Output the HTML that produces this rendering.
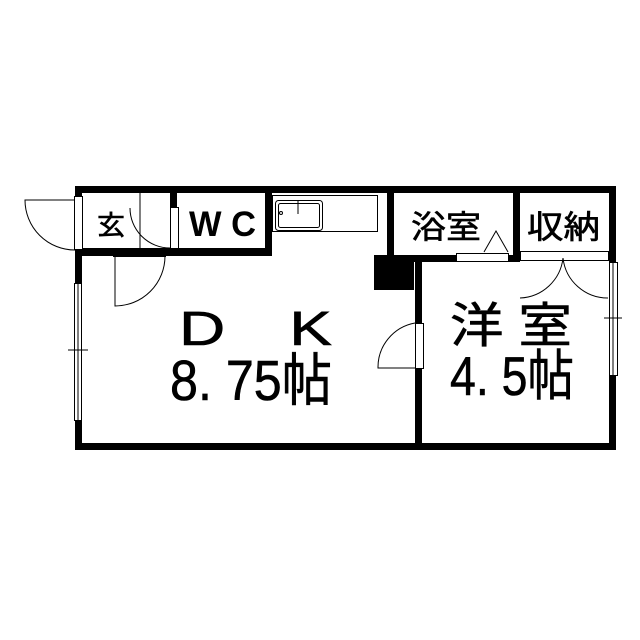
<html><body style="margin:0;background:#fff">
<svg width="640" height="640" xmlns="http://www.w3.org/2000/svg" style="display:block">
<rect width="640" height="640" fill="#fff"/>
<g fill="#000">
<rect x="75" y="186" width="541" height="7"/>
<rect x="75" y="443" width="541" height="7"/>
<rect x="75" y="186" width="7" height="10"/>
<rect x="75" y="250" width="7" height="33"/>
<rect x="75" y="420" width="7" height="30"/>
<rect x="609" y="186" width="7" height="76"/>
<rect x="609" y="375" width="7" height="75"/>
<rect x="82" y="248" width="190" height="8"/>
<rect x="170" y="186" width="7" height="21"/>
<rect x="265" y="186" width="7" height="70"/>
<rect x="387" y="186" width="7" height="70"/>
<rect x="374" y="255" width="40" height="35"/>
<rect x="415" y="255" width="7" height="68"/>
<rect x="415" y="368" width="7" height="80"/>
<rect x="394" y="255" width="62" height="7"/>
<rect x="508" y="255" width="12" height="7"/>
<rect x="513" y="186" width="7" height="76"/>
</g>
<g fill="none" stroke="#000" stroke-width="1">
<rect x="74.5" y="196.5" width="8" height="53"/>
<path d="M75 250 A50 50 0 0 1 25 200 L75 200"/>
<rect x="170.5" y="207.5" width="8" height="41"/>
<path d="M170 248 A40 40 0 0 1 130 208"/>
<line x1="140" y1="193" x2="140" y2="248"/>
<rect x="113.5" y="250.5" width="52" height="6"/>
<path d="M165 256 A50 50 0 0 1 115 306 L115 256"/>
<rect x="74.5" y="283.5" width="7" height="137"/><line x1="78" y1="283" x2="78" y2="420"/>
<line x1="68" y1="350" x2="88" y2="350"/>
<rect x="272.5" y="195.5" width="105" height="36"/>
<rect x="275.5" y="200.5" width="47" height="30" rx="3"/>
<rect x="278.5" y="203.5" width="41" height="24" rx="2"/>
<line x1="298" y1="200" x2="298" y2="214"/>
<circle cx="281" cy="213" r="1.5"/>
<rect x="415.5" y="323.5" width="8" height="45"/>
<path d="M415 323 A45 45 0 0 0 378 368 L415 368"/>
<rect x="456.5" y="253.5" width="52" height="8"/>
<path d="M484 252 L496 231 L508 252"/>
<rect x="520.5" y="251.5" width="88" height="9"/>
<path d="M520 298 A45 45 0 0 0 563 258"/>
<path d="M608 298 A45 45 0 0 1 563 258"/>
<rect x="609.5" y="262.5" width="8" height="113"/><line x1="613" y1="262" x2="613" y2="375"/>
<line x1="604" y1="318" x2="622" y2="318"/>
</g>
<g font-family="Liberation Sans, Noto Sans CJK JP, sans-serif" fill="#000" stroke="#000" stroke-width="0.6">
<text x="97" y="235" font-size="27" textLength="28" lengthAdjust="spacingAndGlyphs">玄</text>
<text x="189" y="236" font-size="35" font-weight="bold" textLength="67" lengthAdjust="spacingAndGlyphs" stroke="none">W C</text>
<text x="411" y="238" font-size="32" textLength="70" lengthAdjust="spacingAndGlyphs">浴室</text>
<text x="527" y="238" font-size="32" textLength="73" lengthAdjust="spacingAndGlyphs">収納</text>
<text x="179" y="345" font-size="48" textLength="153" lengthAdjust="spacingAndGlyphs">D　K</text>
<text x="170" y="400" font-size="57" textLength="162" lengthAdjust="spacingAndGlyphs">8. 75帖</text>
<text x="450" y="342" font-size="48" textLength="122" lengthAdjust="spacingAndGlyphs">洋 室</text>
<text x="450" y="395" font-size="55" textLength="124" lengthAdjust="spacingAndGlyphs">4. 5帖</text>
</g>
</svg>
</body></html>
